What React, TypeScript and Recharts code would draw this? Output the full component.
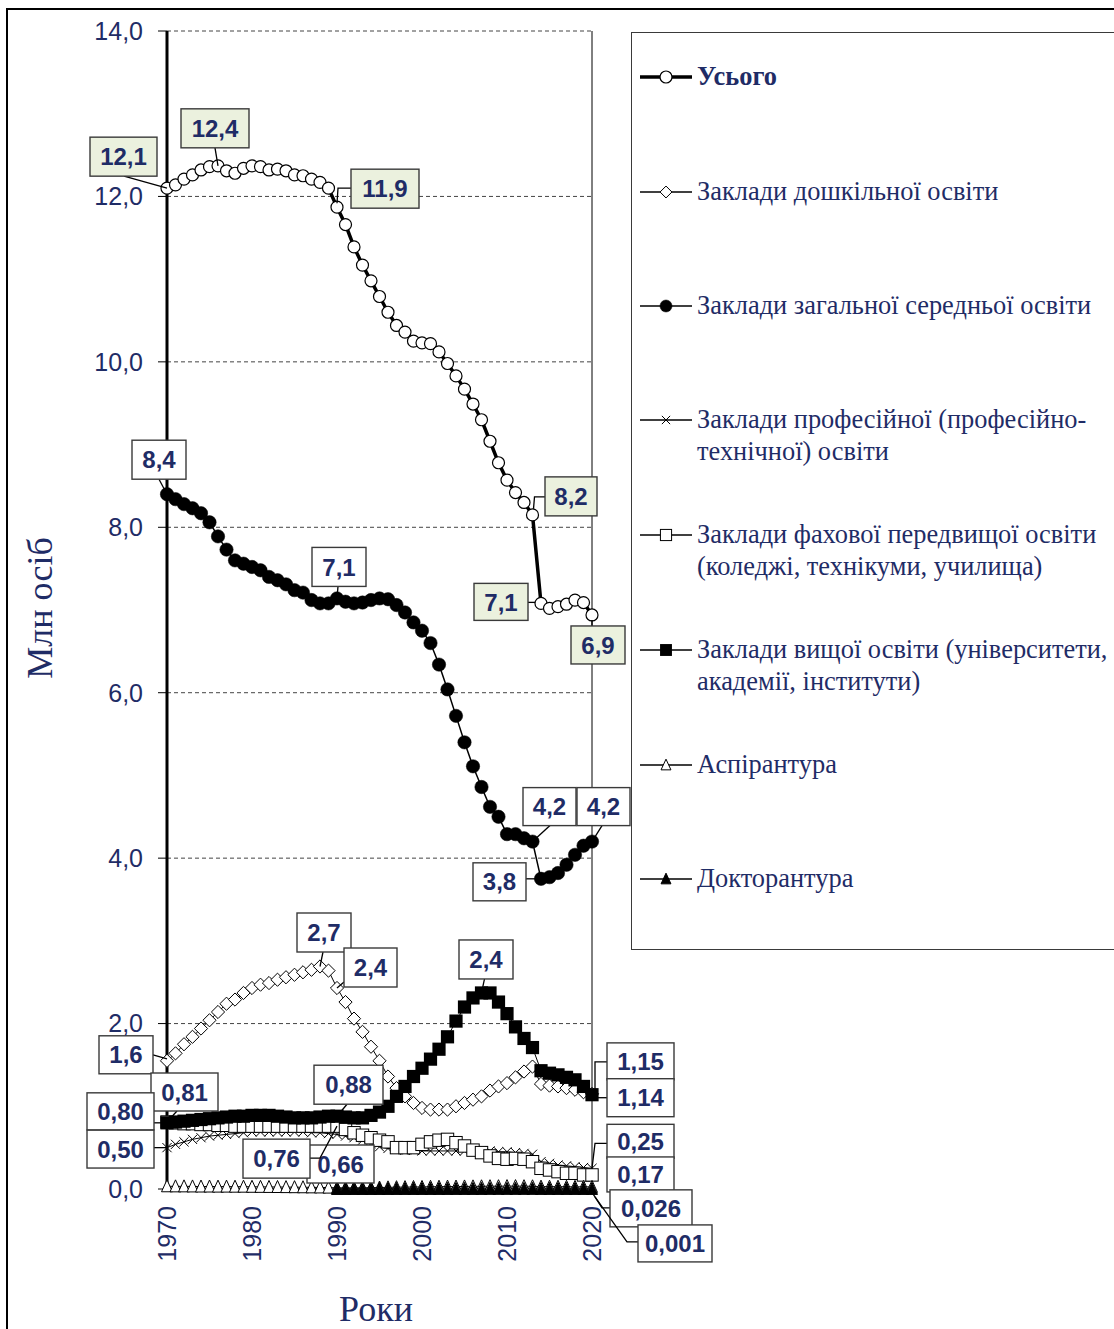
import React from 'react';
import { LineChart, Line, XAxis, YAxis, CartesianGrid, ReferenceLine } from 'recharts';

// ---------------- DATA ----------------
const years = [
  1970, 1971, 1972, 1973, 1974, 1975, 1976, 1977, 1978, 1979,
  1980, 1981, 1982, 1983, 1984, 1985, 1986, 1987, 1988, 1989,
  1990, 1991, 1992, 1993, 1994, 1995, 1996, 1997, 1998, 1999,
  2000, 2001, 2002, 2003, 2004, 2005, 2006, 2007, 2008, 2009,
  2010, 2011, 2012, 2013, 2014, 2015, 2016, 2017, 2018, 2019,
  2020,
];

const total = [
  12.10, 12.14, 12.21, 12.26, 12.32, 12.36, 12.37, 12.31, 12.28, 12.34,
  12.37, 12.36, 12.32, 12.33, 12.31, 12.26, 12.25, 12.21, 12.17, 12.10,
  11.87, 11.66, 11.39, 11.17, 10.98, 10.79, 10.60, 10.44, 10.36, 10.25,
  10.23, 10.22, 10.12, 9.98, 9.83, 9.67, 9.49, 9.30, 9.04, 8.78,
  8.57, 8.42, 8.30, 8.15, 7.08, 7.02, 7.04, 7.07, 7.12, 7.09,
  6.94,
];

const preschool = [
  1.55, 1.64, 1.75, 1.84, 1.94, 2.04, 2.14, 2.24, 2.29, 2.37,
  2.43, 2.47, 2.49, 2.53, 2.56, 2.59, 2.62, 2.65, 2.69, 2.64,
  2.43, 2.26, 2.06, 1.90, 1.72, 1.55, 1.36, 1.22, 1.12, 1.04,
  0.98, 0.96, 0.96, 0.96, 1.00, 1.04, 1.08, 1.12, 1.19, 1.24,
  1.28, 1.35, 1.42, 1.48, 1.27, 1.25, 1.24, 1.22, 1.20, 1.17,
  1.15,
];

const general = [
  8.40, 8.34, 8.28, 8.23, 8.17, 8.06, 7.89, 7.73, 7.60, 7.56,
  7.52, 7.48, 7.40, 7.36, 7.31, 7.24, 7.21, 7.12, 7.08, 7.08,
  7.14, 7.10, 7.08, 7.09, 7.12, 7.14, 7.13, 7.06, 6.97, 6.85,
  6.75, 6.60, 6.34, 6.04, 5.72, 5.40, 5.11, 4.86, 4.62, 4.50,
  4.29, 4.29, 4.24, 4.20, 3.75, 3.77, 3.82, 3.92, 4.04, 4.15,
  4.20,
];

const vocational = [
  0.50, 0.54, 0.57, 0.60, 0.62, 0.64, 0.65, 0.66, 0.67, 0.68,
  0.69, 0.69, 0.69, 0.69, 0.69, 0.69, 0.69, 0.68, 0.68, 0.67,
  0.66, 0.64, 0.62, 0.59, 0.55, 0.51, 0.49, 0.48, 0.47, 0.47,
  0.46, 0.46, 0.46, 0.46, 0.46, 0.46, 0.46, 0.46, 0.46, 0.45,
  0.45, 0.44, 0.43, 0.42, 0.33, 0.31, 0.29, 0.28, 0.27, 0.26,
  0.25,
];

const technical = [
  0.81, 0.80, 0.79, 0.79, 0.78, 0.78, 0.77, 0.77, 0.76, 0.76,
  0.76, 0.76, 0.76, 0.76, 0.76, 0.76, 0.76, 0.76, 0.76, 0.76,
  0.76, 0.72, 0.68, 0.65, 0.62, 0.59, 0.57, 0.50, 0.50, 0.50,
  0.54, 0.57, 0.59, 0.60, 0.56, 0.52, 0.47, 0.44, 0.40, 0.37,
  0.36, 0.37, 0.36, 0.33, 0.25, 0.23, 0.21, 0.19, 0.19, 0.17,
  0.17,
];

const higher = [
  0.80, 0.81, 0.82, 0.83, 0.84, 0.85, 0.86, 0.87, 0.88, 0.88,
  0.89, 0.89, 0.89, 0.88, 0.87, 0.86, 0.86, 0.86, 0.87, 0.88,
  0.88, 0.87, 0.86, 0.86, 0.89, 0.93, 1.00, 1.12, 1.24, 1.36,
  1.46, 1.57, 1.69, 1.84, 2.03, 2.20, 2.31, 2.37, 2.37, 2.26,
  2.12, 1.96, 1.82, 1.71, 1.43, 1.40, 1.38, 1.35, 1.32, 1.24,
  1.14,
];

const postgrad = [
  0.033, 0.032, 0.032, 0.031, 0.030, 0.030, 0.029, 0.029, 0.028, 0.028,
  0.027, 0.026, 0.025, 0.024, 0.023, 0.022, 0.021, 0.020, 0.019, 0.017,
  0.014, 0.014, 0.014, 0.015, 0.016, 0.018, 0.020, 0.022, 0.023, 0.024,
  0.025, 0.027, 0.028, 0.029, 0.030, 0.031, 0.032, 0.033, 0.034, 0.034,
  0.035, 0.035, 0.034, 0.033, 0.029, 0.028, 0.028, 0.027, 0.026, 0.026,
  0.026,
];

const doctoral = [
  null, null, null, null, null, null, null, null, null, null,
  null, null, null, null, null, null, null, null, null, null,
  0.0005, 0.0005, 0.0006, 0.0006, 0.0007, 0.0008, 0.0009, 0.0010, 0.0011, 0.0011,
  0.0012, 0.0012, 0.0013, 0.0013, 0.0014, 0.0014, 0.0015, 0.0015, 0.0016, 0.0016,
  0.0016, 0.0017, 0.0017, 0.0017, 0.0015, 0.0015, 0.0014, 0.0013, 0.0012, 0.0011,
  0.0010,
];

const xTicks = [1970, 1980, 1990, 2000, 2010, 2020];
const yTicks = [0, 2, 4, 6, 8, 10, 12, 14];

const seriesNames = [
  'Усього',
  'Заклади дошкільної освіти',
  'Заклади загальної середньої освіти',
  'Заклади професійної (професійно-технічної) освіти',
  'Заклади фахової передвищої освіти (коледжі, технікуми, училища)',
  'Заклади вищої освіти (університети, академії, інститути)',
  'Аспірантура',
  'Докторантура',
];

const legendLines = [
  ['Усього'],
  ['Заклади дошкільної освіти'],
  ['Заклади загальної середньої освіти'],
  ['Заклади професійної (професійно-', 'технічної) освіти'],
  ['Заклади фахової передвищої освіти', '(коледжі, технікуми, училища)'],
  ['Заклади вищої освіти (університети,', 'академії, інститути)'],
  ['Аспірантура'],
  ['Докторантура'],
];

// annotation labels: series, year, text
const annotations = [
  { s: 'total', year: 1970, text: '12,1', green: true, bx: -77, by: -51, w: 67, h: 39, leader: [[0, 0], [-43, -12]] },
  { s: 'total', year: 1976, text: '12,4', green: true, bx: -37, by: -57, w: 68, h: 39, leader: [[0, 0], [-3, -18]] },
  { s: 'total', year: 1990, text: '11,9', green: true, bx: 14, by: -38, w: 68, h: 39, leader: [[0, -4], [1, -19], [14, -19]] },
  { s: 'total', year: 2013, text: '8,2', green: true, bx: 12.5, by: -38, w: 52, h: 39, leader: [[1, -6], [2, -18], [12.5, -18]] },
  { s: 'total', year: 2014, text: '7,1', green: true, bx: -67, by: -20, w: 54, h: 37, leader: [[-6, -1], [-13, -1]] },
  { s: 'total', year: 2020, text: '6,9', green: true, bx: -21, by: 11, w: 54, h: 38, leader: [[0, 5], [0, 11]] },
  { s: 'general', year: 1970, text: '8,4', bx: -35, by: -54, w: 54, h: 39, leader: [[0, 0], [-8, -15]] },
  { s: 'general', year: 1990, text: '7,1', bx: -25, by: -51, w: 54, h: 39, leader: [[0, 0], [1, -12]] },
  { s: 'general', year: 2013, text: '4,2', bx: -9.5, by: -54, w: 53, h: 38, leader: [[0, 0], [17.5, -16]] },
  { s: 'general', year: 2020, text: '4,2', bx: -15, by: -54, w: 53, h: 38, leader: [[0, 0], [10, -16]] },
  { s: 'general', year: 2014, text: '3,8', bx: -68, by: -16, w: 53, h: 38, leader: [[0, 0], [-15, 0]] },
  { s: 'preschool', year: 1970, text: '1,6', bx: -68, by: -25, w: 54, h: 38, leader: [[0, -2], [-14, -6]] },
  { s: 'preschool', year: 1988, text: '2,7', bx: -23, by: -53.5, w: 54, h: 39, leader: [[0, 0], [3, -14.5]] },
  { s: 'preschool', year: 1990, text: '2,4', bx: 7, by: -40, w: 53, h: 39, leader: [[0, 0], [7, -6]] },
  { s: 'higher', year: 2007, text: '2,4', bx: -22.5, by: -53, w: 54, h: 39, leader: [[0, 0], [3, -14]] },
  { s: 'higher', year: 1970, text: '0,80', bx: -80, by: -30, w: 67, h: 37, leader: [[0, 0], [-13, 0]] },
  { s: 'vocational', year: 1970, text: '0,50', bx: -80, by: -17.6, w: 67, h: 38, leader: [[0, 0], [-13, 0]] },
  { s: 'technical', year: 1970, text: '0,81', bx: -16, by: -49, w: 67, h: 38, leader: [[0, 0], [10, -11]] },
  { s: 'vocational', year: 1990, text: '0,66', bx: -30, by: 10.6, w: 67, h: 38, leader: null },
  { s: 'technical', year: 1990, text: '0,76', bx: -94, by: 13, w: 67, h: 39, leader: [[0, 0], [-17, 32], [-27, 32]] },
  { s: 'higher', year: 1990, text: '0,88', bx: -23, by: -51, w: 69, h: 39, leader: [[0, 0], [10, -12]] },
  { s: 'preschool', year: 2020, text: '1,15', bx: 15, by: -51, w: 67, h: 37, leader: [[3, -3], [3, -32], [15, -32]] },
  { s: 'higher', year: 2020, text: '1,14', bx: 15, by: -16, w: 67, h: 38, leader: [[6, 3], [15, 3]] },
  { s: 'vocational', year: 2020, text: '0,25', bx: 15, by: -44, w: 67, h: 34, leader: [[0, 0], [3, -25], [15, -25]] },
  { s: 'technical', year: 2020, text: '0,17', bx: 15, by: -18, w: 67, h: 35, leader: null },
  { s: 'postgrad', year: 2020, text: '0,026', bx: 18, by: 3, w: 82, h: 37, leader: [[1, 7], [10, 21], [18, 21]] },
  { s: 'doctoral', year: 2020, text: '0,001', bx: 46, by: 36, w: 74, h: 37, leader: [[3, 8], [35, 53], [46, 53]] },
];

// ---------------- STYLES ----------------
const NAVY = '#1f2c66';
const SANS = '"Liberation Sans", Arial, sans-serif';
const SERIF = '"Liberation Serif", "Times New Roman", serif';

const seriesKeys = ['total', 'preschool', 'general', 'vocational', 'technical', 'higher', 'postgrad', 'doctoral'];
const seriesShapes = ['circleOpen', 'diamond', 'circleFilled', 'cross', 'squareOpen', 'squareFilled', 'triOpen', 'triFilled'];
const seriesWidths = [3.5, 1, 1.5, 1, 1, 1, 1, 1];

const tableData = years.map((year, i) => ({
  year,
  total: total[i],
  preschool: preschool[i],
  general: general[i],
  vocational: vocational[i],
  technical: technical[i],
  higher: higher[i],
  postgrad: postgrad[i],
  doctoral: doctoral[i],
}));

function Marker({ shape, cx, cy, k = 1 }: any) {
  switch (shape) {
    case 'circleOpen':
      return <circle cx={cx} cy={cy} r={6 * k} fill="#fff" stroke="#000" strokeWidth={1.2} />;
    case 'circleFilled':
      return <circle cx={cx} cy={cy} r={6.7 * k} fill="#000" stroke="#000" strokeWidth={0.5} />;
    case 'diamond': {
      const d = 6.6 * k;
      return (
        <polygon
          points={`${cx},${cy - d} ${cx + d},${cy} ${cx},${cy + d} ${cx - d},${cy}`}
          fill="#fff"
          stroke="#000"
          strokeWidth={1}
        />
      );
    }
    case 'cross': {
      const d = 4.6 * k;
      return (
        <g stroke="#000" strokeWidth={1}>
          <line x1={cx - d} y1={cy - d} x2={cx + d} y2={cy + d} />
          <line x1={cx - d} y1={cy + d} x2={cx + d} y2={cy - d} />
        </g>
      );
    }
    case 'squareOpen': {
      const d = 6.2 * k;
      return <rect x={cx - d} y={cy - d} width={2 * d} height={2 * d} fill="#fff" stroke="#000" strokeWidth={1} />;
    }
    case 'squareFilled': {
      const d = 6.6 * k;
      return <rect x={cx - d} y={cy - d} width={2 * d} height={2 * d} fill="#000" />;
    }
    case 'triOpen':
    case 'triFilled': {
      const w = 5.5 * k;
      const h = 6.5 * k;
      return (
        <polygon
          points={`${cx},${cy - h} ${cx + w},${cy + h - 1} ${cx - w},${cy + h - 1}`}
          fill={shape === 'triOpen' ? '#fff' : '#000'}
          stroke="#000"
          strokeWidth={1}
        />
      );
    }
    default:
      return null;
  }
}

const makeDot = (shape: string, key: string) => (props: any) => {
  const { cx, cy, index } = props;
  if (cx == null || cy == null || Number.isNaN(cy) || props.value == null) {
    return <g key={`d-${key}-${index}`} />;
  }
  return (
    <g key={`d-${key}-${index}`}>
      <Marker shape={shape} cx={cx} cy={cy} />
    </g>
  );
};

function Annot({ a, cx, cy }: any) {
  const pts = a.leader ? a.leader.map(([dx, dy]: number[]) => `${cx + dx},${cy + dy}`).join(' ') : null;
  return (
    <g>
      {pts && <polyline points={pts} fill="none" stroke="#000" strokeWidth={1.3} />}
      <rect
        x={cx + a.bx}
        y={cy + a.by}
        width={a.w}
        height={a.h}
        fill={a.green ? '#ebf1de' : '#ffffff'}
        stroke="#3a3a3a"
        strokeWidth={1.4}
      />
      <text
        x={cx + a.bx + a.w / 2}
        y={cy + a.by + a.h / 2}
        dy="0.36em"
        textAnchor="middle"
        fontFamily={SANS}
        fontWeight="bold"
        fontSize={24}
        fill={NAVY}
      >
        {a.text}
      </text>
    </g>
  );
}

const makeAnnotDot = (key: string) => (props: any) => {
  const { cx, cy, index, payload } = props;
  const year = payload && payload.year != null ? payload.year : years[index];
  const list = annotations.filter((a) => a.s === key && a.year === year);
  if (!list.length || cx == null || cy == null || Number.isNaN(cy)) {
    return <g key={`a-${key}-${index}`} />;
  }
  return (
    <g key={`a-${key}-${index}`}>
      {list.map((a, j) => (
        <Annot key={j} a={a} cx={cx} cy={cy} />
      ))}
    </g>
  );
};

const XTick = (props: any) => {
  const { x, payload } = props;
  return (
    <text
      transform={`translate(${x},1206) rotate(-90)`}
      textAnchor="end"
      dy="0.36em"
      fontFamily={SANS}
      fontSize={25}
      fill={NAVY}
    >
      {payload.value}
    </text>
  );
};

const fmtY = (v: number) => v.toFixed(1).replace('.', ',');

function LegendSymbol({ shape, width }: any) {
  return (
    <svg width={54} height={20} style={{ position: 'absolute', left: 639, overflow: 'visible' }}>
      <line x1={1} y1={10} x2={53} y2={10} stroke="#000" strokeWidth={width} />
      <Marker shape={shape} cx={27} cy={10} k={shape === 'circleOpen' ? 1 : 0.9} />
    </svg>
  );
}

const legendY = [76.5, 191.5, 306, 420, 535, 650, 765, 879];

function ChartLegend() {
  return (
    <>
      <div
        style={{
          position: 'absolute',
          left: 631,
          top: 32,
          width: 600,
          height: 916,
          border: '1.5px solid #3a3a3a',
          background: '#fff',
        }}
      />
      {seriesKeys.map((k, i) => (
        <React.Fragment key={k}>
          <div style={{ position: 'absolute', left: 0, top: legendY[i] - 10 }}>
            <LegendSymbol shape={seriesShapes[i]} width={i === 0 ? 3.5 : 1.3} />
          </div>
          <div
            title={seriesNames[i]}
            style={{
              position: 'absolute',
              left: 697,
              top: legendY[i] - 17,
              fontFamily: SERIF,
              fontSize: 26.4,
              lineHeight: '32px',
              color: NAVY,
              fontWeight: i === 0 ? 'bold' : 'normal',
              whiteSpace: 'nowrap',
            }}
          >
            {legendLines[i].map((t, j) => (
              <div key={j}>{t}</div>
            ))}
          </div>
        </React.Fragment>
      ))}
    </>
  );
}

export default function App() {
  return (
    <div
      style={{
        position: 'absolute',
        left: 0,
        top: 0,
        width: 1114,
        height: 1329,
        overflow: 'hidden',
        background: '#fff',
      }}
    >
      <div
        style={{
          position: 'absolute',
          left: 6,
          top: 8,
          width: 1200,
          height: 1400,
          border: '2px solid #000',
        }}
      />
      <ChartLegend />
      <div style={{ position: 'absolute', left: 0, top: 0 }}>
        <LineChart
          width={1114}
          height={1329}
          data={tableData}
          margin={{ top: 31, right: 522, bottom: 0, left: 0 }}
        >
          <CartesianGrid horizontal vertical={false} stroke="#444" strokeDasharray="4 3" />
          <XAxis
            dataKey="year"
            type="number"
            domain={[1970, 2020]}
            ticks={xTicks}
            interval={0}
            tick={<XTick />}
            tickLine={false}
            axisLine={{ stroke: '#000' }}
            height={140}
          />
          <YAxis
            type="number"
            domain={[0, 14]}
            ticks={yTicks}
            interval={0}
            width={167}
            tickSize={9}
            tickMargin={15}
            tickFormatter={fmtY}
            axisLine={{ stroke: '#000', strokeWidth: 3 }}
            tickLine={{ stroke: '#000', strokeWidth: 1 }}
            tick={{ fill: NAVY, fontSize: 25, fontFamily: SANS }}
          />
          <ReferenceLine x={2020} stroke="#000" strokeWidth={1} />
          {seriesKeys.map((k, i) => (
            <Line
              key={k}
              dataKey={k}
              name={seriesNames[i]}
              type="linear"
              stroke="#000"
              strokeWidth={seriesWidths[i]}
              dot={makeDot(seriesShapes[i], k)}
              activeDot={false}
              isAnimationActive={false}
              legendType="none"
            />
          ))}
          {seriesKeys.map((k) => (
            <Line
              key={`ann-${k}`}
              dataKey={k}
              stroke="none"
              strokeWidth={0}
              dot={makeAnnotDot(k)}
              activeDot={false}
              isAnimationActive={false}
              legendType="none"
            />
          ))}
        </LineChart>
      </div>
      <div
        style={{
          position: 'absolute',
          left: 40,
          top: 608,
          transform: 'translate(-50%, -50%) rotate(-90deg)',
          fontFamily: SERIF,
          fontSize: 36,
          lineHeight: '36px',
          color: NAVY,
          whiteSpace: 'nowrap',
        }}
      >
        Млн осіб
      </div>
      <div
        style={{
          position: 'absolute',
          left: 376,
          top: 1309,
          transform: 'translate(-50%, -50%)',
          fontFamily: SERIF,
          fontSize: 36,
          lineHeight: '30px',
          color: NAVY,
          whiteSpace: 'nowrap',
        }}
      >
        Роки
      </div>
    </div>
  );
}
